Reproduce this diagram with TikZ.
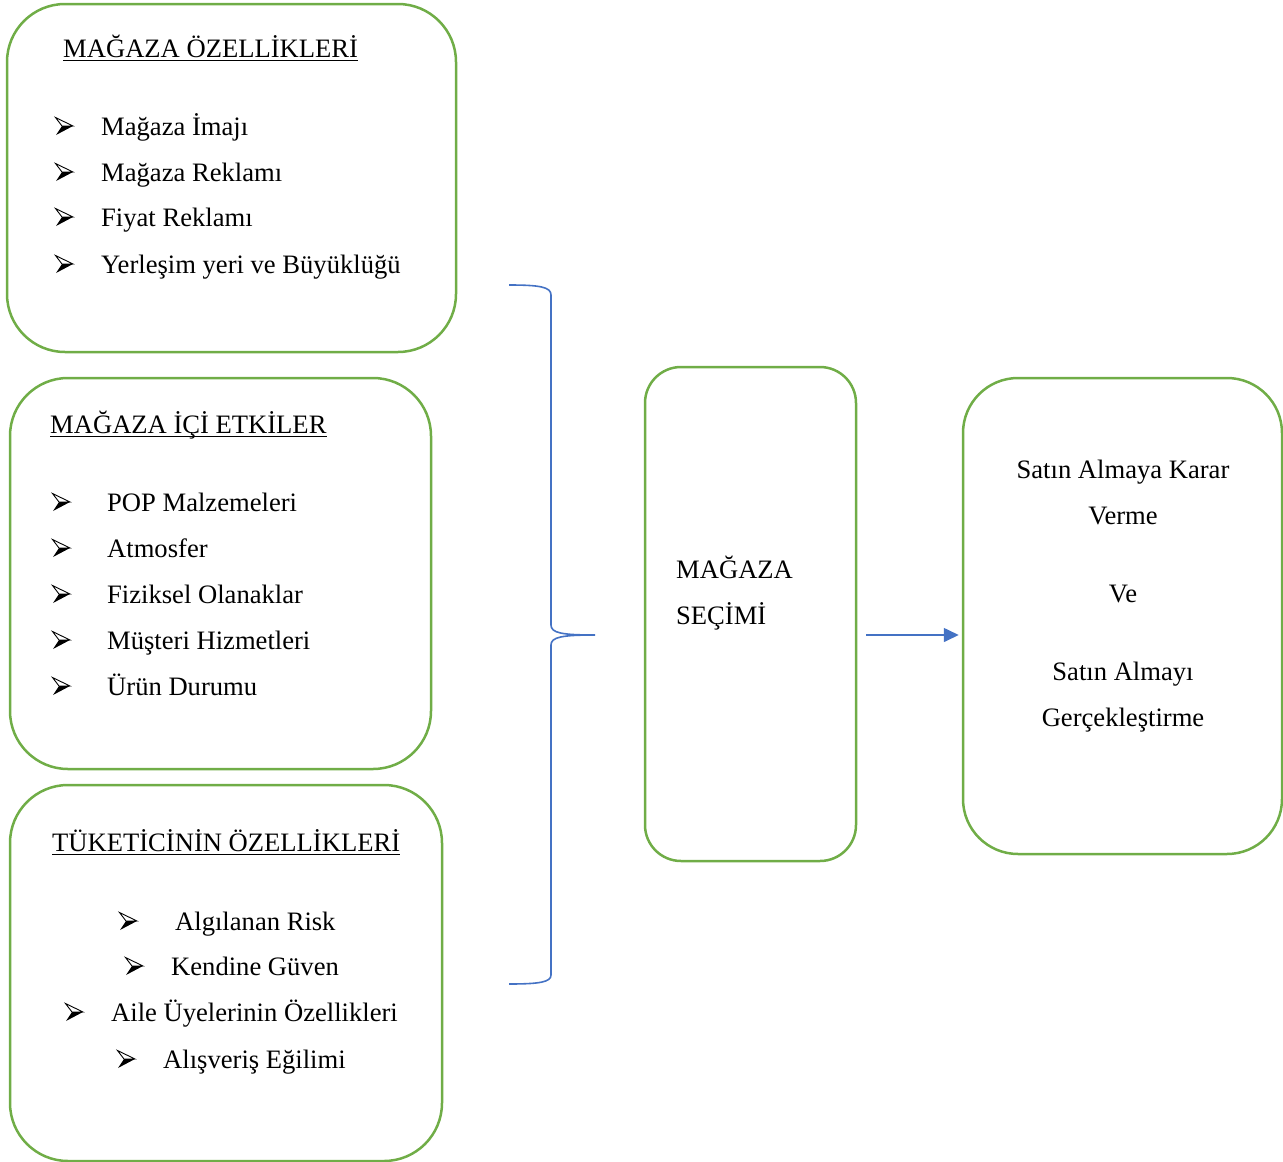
\documentclass[tikz,border=0pt]{standalone}
\usepackage{fontspec}
\setmainfont{Liberation Serif}
\usetikzlibrary{arrows.meta}
\definecolor{boxgreen}{HTML}{70AD47}
\definecolor{linkblue}{HTML}{4472C4}
\tikzset{
  panel/.style={draw=boxgreen, line width=2.5pt, rectangle, rounded corners=#1, inner sep=0pt},
  panel/.default=58pt,
  txt/.style={anchor=base west, inner sep=0pt, font=\fontsize{26.6}{32}\selectfont},
  ctxt/.style={anchor=base, inner sep=0pt, font=\fontsize{26.6}{32}\selectfont},
  uline/.style={line width=1.6pt},
  link/.style={draw=linkblue, line width=1.6pt},
  % three-dimensional arrowhead bullet: light upper facet, dark lower facet
  arrowbullet/.pic={
    \draw[line width=0.9pt, line join=miter] (-8.5,-8.5) -- (9,0) -- (-2,0) -- cycle;
    \fill[line join=miter] (-2,0) -- (9,0) -- (-8,9) -- cycle;
  },
}
\begin{document}
\begin{tikzpicture}[x=1pt,y=-1pt]
\useasboundingbox (0,0) rectangle (1283,1162);

% --- panels ---
\node[panel, minimum width=449pt, minimum height=348pt] (p1) at (231.5,178) {};
\node[panel, minimum width=421pt, minimum height=391pt] (p2) at (220.5,573.5) {};
\node[panel, minimum width=432pt, minimum height=376pt] (p3) at (226,973) {};
\node[panel=36pt, minimum width=211pt, minimum height=494pt] (p4) at (750.5,614) {};
\node[panel=55pt, minimum width=319pt, minimum height=476pt] (p5) at (1122.5,616) {};

% --- store features ---
\node[txt] (t1) at (63,57) {MAĞAZA ÖZELLİKLERİ};
\draw[uline] ([yshift=-3.5pt]t1.base west) -- ([yshift=-3.5pt]t1.base east);
\pic at (64,126) {arrowbullet}; \node[txt] (i11) at (101,135) {Mağaza İmajı};
\pic at (64,172) {arrowbullet}; \node[txt] (i12) at (101,181) {Mağaza Reklamı};
\pic at (64,217) {arrowbullet}; \node[txt] (i13) at (101,226) {Fiyat Reklamı};
\pic at (64,264) {arrowbullet}; \node[txt] (i14) at (101,273) {Yerleşim yeri ve Büyüklüğü};

% --- in-store effects ---
\node[txt] (t2) at (50,433) {MAĞAZA İÇİ ETKİLER};
\draw[uline] ([yshift=-3.5pt]t2.base west) -- ([yshift=-3.5pt]t2.base east);
\pic at (61,502) {arrowbullet}; \node[txt] (i21) at (107,511) {POP Malzemeleri};
\pic at (61,548) {arrowbullet}; \node[txt] (i22) at (107,557) {Atmosfer};
\pic at (61,594) {arrowbullet}; \node[txt] (i23) at (107,603) {Fiziksel Olanaklar};
\pic at (61,640) {arrowbullet}; \node[txt] (i24) at (107,649) {Müşteri Hizmetleri};
\pic at (61,686) {arrowbullet}; \node[txt] (i25) at (107,695) {Ürün Durumu};

% --- consumer features ---
\node[txt] (t3) at (52,851) {TÜKETİCİNİN ÖZELLİKLERİ};
\draw[uline] ([yshift=-3.5pt]t3.base west) -- ([yshift=-3.5pt]t3.base east);
\pic at (128,921) {arrowbullet}; \node[txt] (i31) at (175,930) {Algılanan Risk};
\pic at (134,966) {arrowbullet}; \node[txt] (i32) at (171,975) {Kendine Güven};
\pic at (74,1012) {arrowbullet}; \node[txt] (i33) at (111,1021) {Aile Üyelerinin Özellikleri};
\pic at (126,1059) {arrowbullet}; \node[txt] (i34) at (163,1068) {Alışveriş Eğilimi};

% --- store choice ---
\node[txt] (s1) at (676,578) {MAĞAZA};
\node[txt] (s2) at (676,624) {SEÇİMİ};

% --- outcome ---
\node[ctxt] (o1) at (1123,478) {Satın Almaya Karar};
\node[ctxt] (o2) at (1123,524) {Verme};
\node[ctxt] (o3) at (1123,602) {Ve};
\node[ctxt] (o4) at (1123,680) {Satın Almayı};
\node[ctxt] (o5) at (1123,726) {Gerçekleştirme};

% --- brace gathering the three panels ---
\coordinate (bt) at (509,285);
\coordinate (bm) at (595,635);
\coordinate (bb) at (509,984);
\draw[link] (bt) .. controls (540,285) and (551,287) .. (551,295)
  -- (551,625) .. controls (551,633) and (562,635) .. (bm)
  .. controls (562,635) and (551,637) .. (551,645)
  -- (551,975) .. controls (551,982) and (540,984) .. (bb);

% --- arrow to outcome ---
\coordinate (a1) at (866,635);
\draw[link, -{Triangle[length=15pt,width=14pt]}, shorten >=3pt] (a1) -- (p5.west |- a1);
\end{tikzpicture}
\end{document}
